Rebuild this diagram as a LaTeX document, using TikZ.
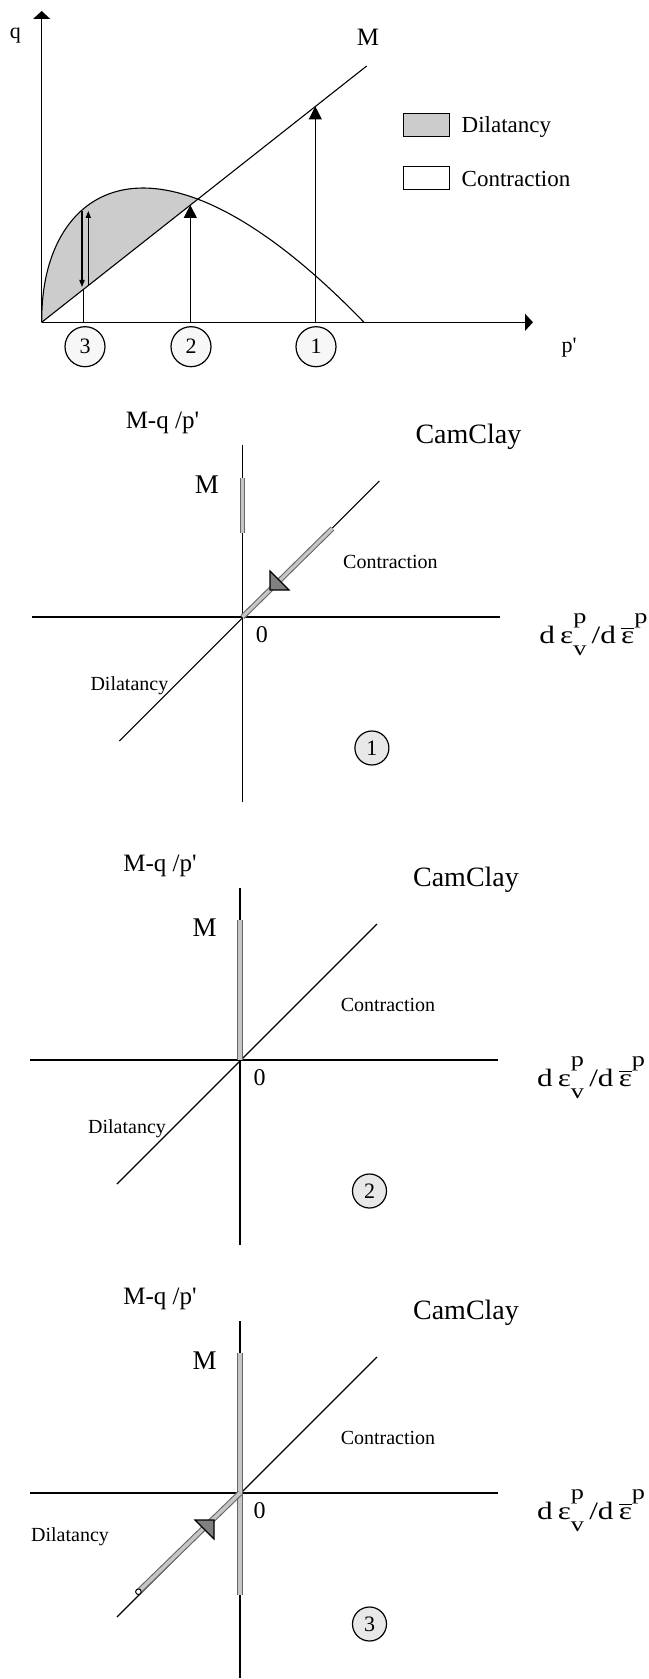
\documentclass[tikz,border=0pt]{standalone}
\usepackage{fontspec}
\setmainfont{Liberation Serif}
\usetikzlibrary{arrows.meta}
\newcommand\setfs[1]{\fontsize{#1}{#1}\selectfont}
\newcommand\subsz[1]{{\setfs{10.5}#1}}
\newcommand\strainlabel{\scalebox{1.25}[1]{d\,ε\rlap{\raisebox{10pt}{\subsz{p}}}\raisebox{-6pt}{\subsz{v}}\,/d\,$\overline{\mbox{ε}}$\raisebox{10pt}{\subsz{p}}}}
\newcommand\camclaypanel[6]{%
\begin{scope}[shift={(#2,#3)}]
  \coordinate (vt#1) at (0,-172);
  \coordinate (vb#1) at (0,185);
  \coordinate (hl#1) at (-210,0);
  \coordinate (hr#1) at (258,0);
  \coordinate (dl#1) at (-123,124);
  \coordinate (du#1) at (137,-136);
  \draw[axisline] (hl#1) -- (hr#1);
  \draw[vaxis] (vt#1) -- (vb#1);
  \draw[thinline] (dl#1) -- (du#1);
  \node[txt,font=\setfs{12.5}] (yl#1) at (-80,-194) {M-q /p\textquotesingle};
  \node[cam] (cc#1) at (226,-180) {CamClay};
  \node[txt,font=\setfs{13.5}] (M#1) at (-35.5,-132) {M};
  \node[small] (con#1) at (148,-55) {Contraction};
  \node[small] (dil#1) at (#4,#5) {Dilatancy};
  \node[lab12] (zero#1) at (19.5,17.5) {0};
  \node[pcirc] (pc#1) at (129.5,131) {#6};
  \node[txt,font=\setfs{12.5},anchor=base west] (st#1) at (297,26) {\strainlabel};
\end{scope}}
\begin{document}
\begin{tikzpicture}[x=0.5pt,y=-0.5pt,
  axisline/.style={line width=0.75pt},
  vaxis/.style={line width=0.65pt},
  thinline/.style={line width=0.55pt},
  axhead/.style={-{Triangle[length=4pt,width=8.5pt]}},
  bighead/.style={-{Triangle[length=6.5pt,width=6.5pt]}},
  smallhead/.style={-{Triangle[length=3.5pt,width=2.6pt]}},
  txt/.style={inner sep=0pt,outer sep=0pt},
  lab11/.style={txt,font=\setfs{11}},
  lab12/.style={txt,font=\setfs{12}},
  legtxt/.style={txt,font=\setfs{11.5}},
  cam/.style={txt,font=\setfs{14}},
  small/.style={txt,font=\setfs{10}},
  numcirc/.style={circle,draw,line width=0.6pt,inner sep=0pt,minimum size=20pt,fill=gray!6,font=\setfs{11}},
  pcirc/.style={circle,draw,line width=0.6pt,inner sep=0pt,minimum size=17pt,fill=gray!18,font=\setfs{11}},
  legbox/.style={draw,line width=0.6pt,inner sep=0pt,outer sep=0pt,minimum width=23pt,minimum height=11.7pt},
  dil/.style={fill=gray!40},
  rod/.style={draw=black!60,line width=0.55pt,double=gray!45,double distance=#1},
  rod/.default=1.9pt,
  headtri/.style={fill=black!50,draw=black,line width=0.6pt,line join=miter},
]
\useasboundingbox (0,0) rectangle (648,1679);

% ---------------- top chart ----------------
\coordinate (O) at (41.7,322.3);
\coordinate (qtop) at (41.7,11);
\coordinate (pend) at (533,322.3);
\coordinate (Mend) at (366.7,66);
\fill[dil] plot[variable=\t,domain=0.001:12.49,samples=90]
  ({41.7+\t*\t},{322.3-0.07295*exp(0.918*ln(\t))*(322.3-\t*\t)}) -- cycle;
\draw[thinline] plot[variable=\t,domain=0.001:17.953,samples=160]
  ({41.7+\t*\t},{322.3-0.07295*exp(0.918*ln(\t))*(322.3-\t*\t)});
\draw[thinline] (O) -- (Mend);
\draw[axisline,axhead] (O) -- (qtop);
\draw[axisline,axhead] (O) -- (pend);

\coordinate (a1b) at (315.3,322.3); \coordinate (a1t) at (315.3,106.4);
\coordinate (a2b) at (190.3,322.3); \coordinate (a2t) at (190.3,205);
\coordinate (a3b) at (83.3,322.3);  \coordinate (a3t) at (83.3,289);
\coordinate (a3d1) at (82,211);     \coordinate (a3d2) at (82,287);
\coordinate (a3u1) at (88.3,286);   \coordinate (a3u2) at (88.3,211);
\draw[thinline,bighead] (a1b) -- (a1t);
\draw[thinline,bighead] (a2b) -- (a2t);
\draw[thinline] (a3b) -- (a3t);
\draw[thinline,smallhead] (a3d1) -- (a3d2);
\draw[thinline,smallhead] (a3u1) -- (a3u2);

\node[numcirc] (c3) at (85,346.7) {3};
\node[numcirc] (c2) at (191,346.7) {2};
\node[numcirc] (c1) at (316,346.7) {1};

\node[lab11] (qlab) at (15.5,36) {q};
\node[lab11] (plab) at (569,348) {p\textquotesingle};
\node[txt,font=\setfs{12.5}] (Mlab) at (368,37) {M};

\node[legbox,dil] (legD) at (426.3,125) {};
\node[legbox] (legC) at (426.3,178) {};
\node[legtxt,anchor=base west] (legDt) at (461.7,132.7) {Dilatancy};
\node[legtxt,anchor=base west] (legCt) at (461.7,186.7) {Contraction};

% ---------------- panels ----------------
\camclaypanel{A}{242.4}{617}{-113}{69}{1}
\camclaypanel{B}{240}{1060}{-113}{69}{2}
\camclaypanel{C}{240}{1493}{-170}{44}{3}

% panel 1 rods
\begin{scope}[shift={(242.4,617)}]
  \coordinate (r1a) at (0,-139); \coordinate (r1b) at (0,-84);
  \coordinate (r1c) at (90,-88.5); \coordinate (r1o) at (0,0);
  \coordinate (t1) at (27.6,-27);
  \draw[rod=1.8pt] (r1a) -- (r1b);
  \draw[rod=1.6pt] (r1c) -- (r1o);
  \filldraw[headtri] (t1) -- ++(0,-19) -- ++(19,19) -- cycle;
\end{scope}
% panel 2 rod
\begin{scope}[shift={(240,1060)}]
  \coordinate (r2a) at (0,-140); \coordinate (r2o) at (0,0);
  \draw[rod=2.2pt] (r2a) -- (r2o);
\end{scope}
% panel 3 rods
\begin{scope}[shift={(240,1493)}]
  \coordinate (r3a) at (0,-139.7); \coordinate (r3b) at (0,102);
  \coordinate (r3o) at (0,0); \coordinate (r3c) at (-101.6,98.7);
  \coordinate (t3) at (-26,27);
  \draw[rod=2.2pt] (r3a) -- (r3b);
  \draw[rod=1.8pt] (r3o) -- (r3c);
  \draw[fill=white,line width=0.5pt] (r3c) circle (1.4pt);
  \filldraw[headtri] (t3) -- ++(-19,0) -- ++(19,19) -- cycle;
\end{scope}
\end{tikzpicture}
\end{document}
